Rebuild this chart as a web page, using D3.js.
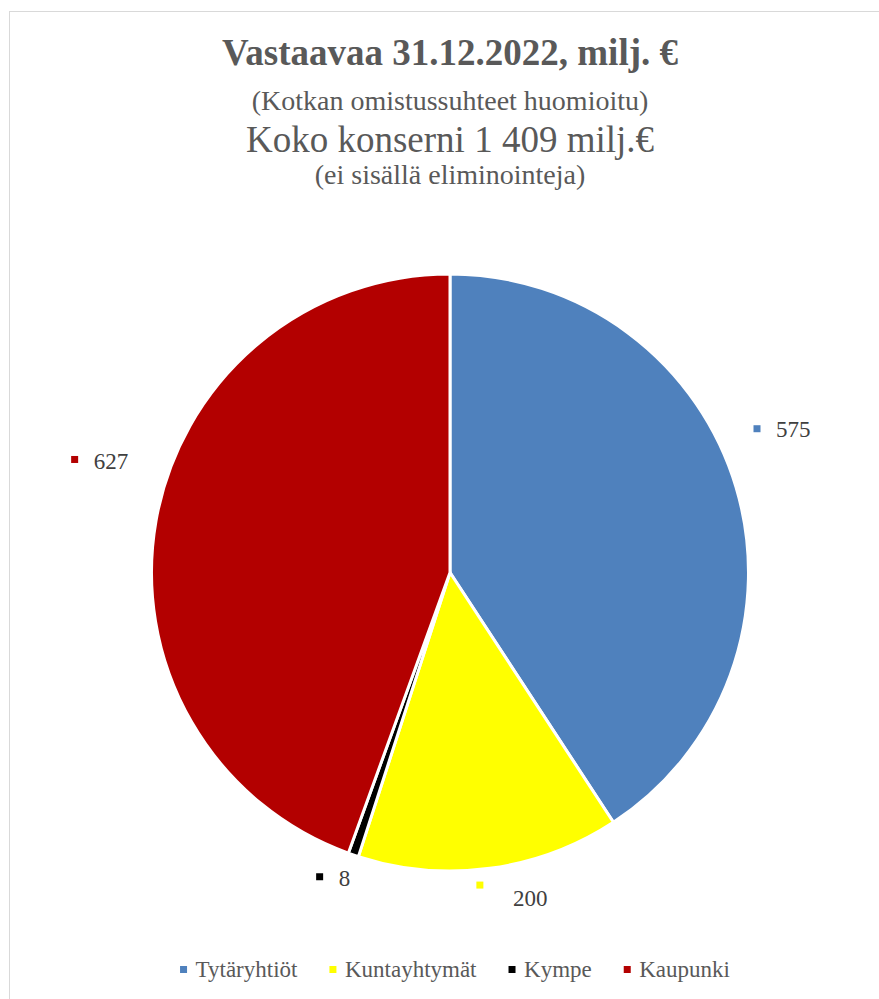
<!DOCTYPE html>
<html>
<head>
<meta charset="utf-8">
<title>Vastaavaa 31.12.2022</title>
<script src="https://d3js.org/d3.v7.min.js"></script>
<style>
  body { margin: 0; background: #ffffff; }
</style>
</head>
<body>
<svg width="879" height="999" id="mainsvg"></svg>
<script>
// data
const categories = ['Tytäryhtiöt', 'Kuntayhtymät', 'Kympe', 'Kaupunki'];
const values = [575, 200, 8, 627];
const colors = ['#4f81bd', '#ffff00', '#000000', '#b30000'];
const titleLines = [
  'Vastaavaa 31.12.2022, milj. €',
  '(Kotkan omistussuhteet huomioitu)',
  'Koko konserni 1 409 milj.€',
  '(ei sisällä eliminointeja)'
];

// layout (label placement like the excel "best fit")
const labelRadius = [339, 314, 331, 392];
const labelNudge = [-8.5, 2.2, 4.3, 6.8];   // degrees
const labelText = [[19, 8.5], [33, 20.5], [19, 9], [19, 9.5]];
const FONT = "Liberation Serif, DejaVu Serif, serif";

const svg = d3.select('#mainsvg');
const width = +svg.attr('width');
const height = +svg.attr('height');
const cx = 450, cy = 572.5, radius = 298.5;

// chart frame
svg.append('rect')
  .attr('x', 9.5).attr('y', 11.5)
  .attr('width', width + 20).attr('height', height + 20)
  .attr('fill', 'none')
  .attr('stroke', '#d9d9d9')
  .attr('stroke-width', 1);

// titles
const titleStyle = [
  {size: 37, weight: 'bold', y: 65},
  {size: 28, weight: 'normal', y: 110},
  {size: 37, weight: 'normal', y: 152},
  {size: 28, weight: 'normal', y: 184}
];
svg.selectAll('.title').data(titleLines).enter().append('text')
  .attr('class', 'title')
  .attr('x', cx)
  .attr('y', (d, i) => titleStyle[i].y)
  .attr('text-anchor', 'middle')
  .attr('fill', '#595959')
  .style('font-family', FONT)
  .style('font-size', (d, i) => titleStyle[i].size + 'px')
  .style('font-weight', (d, i) => titleStyle[i].weight)
  .text(d => d);

// pie
const data = categories.map((c, i) => ({name: c, value: values[i], color: colors[i], i: i}));
const pie = d3.pie().value(d => d.value).sort(null);
const arcs = pie(data);
const arc = d3.arc().innerRadius(0).outerRadius(radius);

const g = svg.append('g').attr('transform', `translate(${cx},${cy})`);
g.selectAll('.slice').data(arcs).enter().append('path')
  .attr('class', 'slice')
  .attr('d', arc)
  .attr('fill', d => d.data.color)
  .attr('stroke', '#ffffff')
  .attr('stroke-width', 3)
  .attr('stroke-linejoin', 'round');

// data labels with legend key
const lab = g.selectAll('.lbl').data(arcs).enter().append('g')
  .attr('class', 'lbl')
  .attr('transform', d => {
    const i = d.data.i;
    const a = (d.startAngle + d.endAngle) / 2 + labelNudge[i] * Math.PI / 180;
    const r = labelRadius[i];
    return `translate(${r * Math.sin(a)},${-r * Math.cos(a)})`;
  });
lab.append('rect')
  .attr('x', -3.5).attr('y', -3.5)
  .attr('width', 7).attr('height', 7)
  .attr('fill', d => d.data.color);
lab.append('text')
  .attr('x', d => labelText[d.data.i][0])
  .attr('y', d => labelText[d.data.i][1])
  .attr('fill', '#404040')
  .style('font-family', FONT)
  .style('font-size', '23px')
  .text(d => d.data.value);

// legend
const legend = svg.append('g').attr('class', 'legend');
const items = legend.selectAll('.item').data(data).enter().append('g').attr('class', 'item');
items.append('rect')
  .attr('x', 0).attr('y', -3.5)
  .attr('width', 7).attr('height', 7)
  .attr('fill', d => d.color);
items.append('text')
  .attr('x', 15.5).attr('y', 7.5)
  .attr('fill', '#595959')
  .style('font-family', FONT)
  .style('font-size', '23px')
  .text(d => d.name);
let xpos = 0;
items.each(function () {
  const w = 15.5 + d3.select(this).select('text').node().getComputedTextLength();
  d3.select(this).attr('transform', `translate(${xpos},0)`);
  xpos += w + 32;
});
const legendW = xpos - 32;
legend.attr('transform', `translate(${455 - legendW / 2},969.5)`);
</script>
</body>
</html>
